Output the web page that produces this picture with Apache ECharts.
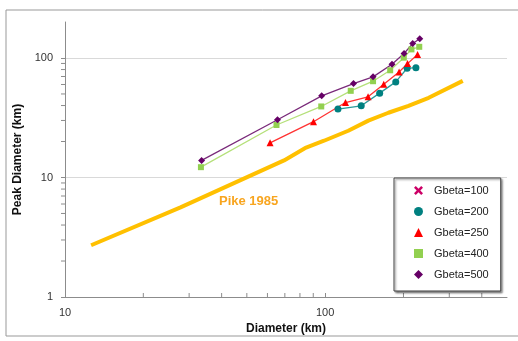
<!DOCTYPE html>
<html lang="en">

<head>
    <meta charset="UTF-8">
    <title>Peak Diameter vs Diameter</title>
    <script src="https://cdn.jsdelivr.net/npm/echarts@6/dist/echarts.min.js"></script>
    <style>
        html, body { margin: 0; padding: 0; background: #fff; }
    </style>
</head>

<body>
    <div id="main" style="width: 518px;height:341px;"></div>
    <script>
        // [diameter km, peak diameter km]
        var pike1985 = [[12.6, 2.71], [27.8, 5.62], [69.5, 13.9], [84.5, 17.8], [99, 20.3], [122.7, 24.6],
            [146.6, 29.9], [175, 34.8], [209, 39.8], [250, 46.4], [338, 64.3]];
        var gbeta100 = [];
        var gbeta200 = [[112, 37.4], [137.6, 39.8], [162, 50.8], [186.8, 63.1], [206.6, 82], [223.3, 83]];
        var gbeta250 = [[61.4, 19.5], [90.2, 29.3], [119.7, 42.4], [146.2, 47.3], [168, 60.4], [192.4, 76.4],
            [207.3, 89.7], [226.6, 107]];
        var gbeta400 = [[33.3, 12.2], [65, 27.5], [96.6, 39.3], [125.4, 53.1], [152.8, 63.9], [177.8, 78.9],
            [200.6, 100.6], [214.6, 118], [230, 124]];
        var gbeta500 = [[33.5, 13.9], [65.6, 30.4], [97, 48.2], [128.5, 61.1], [152.8, 69.5], [180.7, 88.6],
            [201, 109], [217, 132], [231, 145]];
        var xMinorTicks = [20, 30, 40, 50, 60, 70, 80, 90, 200, 300, 400];
        var yMinorTicks = [2, 3, 4, 5, 6, 7, 8, 9, 20, 30, 40, 50, 60, 70, 80, 90];

        var axisGray = '#8c8c8c';
        var crossIcon = 'path://M0,2 L2,0 L5,3 L8,0 L10,2 L7,5 L10,8 L8,10 L5,7 L2,10 L0,8 L3,5 Z';

        var myChart = echarts.init(document.getElementById('main'));

        function gbeta(name, data, color, lineColor, symbol, size) {
            return {
                name: name,
                type: 'line',
                data: data,
                symbol: symbol,
                symbolSize: size,
                showAllSymbol: true,
                itemStyle: { color: color },
                lineStyle: { color: lineColor, width: 1.3 },
                z: 3
            };
        }

        var option = {
            animation: false,
            textStyle: { fontFamily: 'Liberation Sans' },
            grid: { left: 65, right: 11, top: 22, bottom: 44 },
            graphic: [
                {
                    type: 'rect',
                    shape: { x: 6, y: 10, width: 600, height: 326 },
                    style: { fill: 'none', stroke: '#999', lineWidth: 1 },
                    z: -1
                },
                {
                    type: 'text',
                    left: 219,
                    top: 195,
                    style: {
                        text: 'Pike 1985',
                        fill: '#F8A51F',
                        font: 'bold 13px "Liberation Sans"'
                    }
                }
            ],
            legend: {
                orient: 'vertical',
                left: 394,
                top: 178,
                padding: [7, 12, 11, 20],
                itemGap: 10,
                itemWidth: 9,
                itemHeight: 9,
                backgroundColor: '#fff',
                borderColor: '#404040',
                borderWidth: 1,
                shadowColor: 'rgba(0,0,0,0.45)',
                shadowBlur: 2,
                shadowOffsetX: 1.5,
                shadowOffsetY: 1.5,
                textStyle: { fontSize: 11, color: '#222', padding: [0, 0, 0, 6] },
                data: [
                    { name: 'Gbeta=100', icon: crossIcon },
                    { name: 'Gbeta=200', icon: 'circle' },
                    { name: 'Gbeta=250', icon: 'triangle' },
                    { name: 'Gbeta=400', icon: 'rect' },
                    { name: 'Gbeta=500', icon: 'diamond' }
                ]
            },
            xAxis: {
                type: 'log',
                logBase: 10,
                min: 10,
                max: 500,
                name: 'Diameter (km)',
                nameLocation: 'middle',
                nameGap: 26,
                nameTextStyle: { fontWeight: 'bold', fontSize: 12, color: '#111' },
                axisLine: { lineStyle: { color: axisGray } },
                axisTick: { inside: true, length: 4, lineStyle: { color: axisGray } },
                axisLabel: { fontSize: 11, color: '#333', margin: 10, showMaxLabel: false },
                splitLine: { show: false }
            },
            yAxis: {
                type: 'log',
                logBase: 10,
                min: 1,
                max: 200,
                name: 'Peak Diameter (km)',
                nameLocation: 'middle',
                nameGap: 33,
                nameTextStyle: { fontWeight: 'bold', fontSize: 12, color: '#111' },
                axisLine: { show: true, lineStyle: { color: axisGray } },
                axisTick: { show: true, length: 4, lineStyle: { color: axisGray } },
                axisLabel: { fontSize: 11, color: '#333', margin: 12, showMaxLabel: false },
                splitLine: { show: true, showMinLine: false, showMaxLine: false, lineStyle: { color: '#d9d9d9' } }
            },
            series: [
                {
                    name: 'Pike 1985',
                    type: 'line',
                    data: pike1985,
                    symbol: 'none',
                    smooth: false,
                    lineStyle: { color: '#FFC000', width: 4 },
                    z: 2
                },
                gbeta('Gbeta=100', gbeta100, '#CC0066', '#CC0066', crossIcon, 8),
                gbeta('Gbeta=200', gbeta200, '#008080', '#2a9a9a', 'circle', 7),
                gbeta('Gbeta=250', gbeta250, '#FF0000', '#FF3333', 'triangle', 7),
                gbeta('Gbeta=400', gbeta400, '#92D050', '#b5e07a', 'rect', 6),
                gbeta('Gbeta=500', gbeta500, '#660066', '#7a2a7a', 'diamond', 7),
                {
                    name: 'xMinor',
                    type: 'custom',
                    silent: true,
                    data: xMinorTicks.map(function (v) { return [v, 1]; }),
                    renderItem: function (params, api) {
                        var p = api.coord([api.value(0), 1]);
                        return {
                            type: 'line',
                            shape: { x1: p[0], y1: p[1], x2: p[0], y2: p[1] - 4 },
                            style: { stroke: axisGray, lineWidth: 1 }
                        };
                    },
                    z: 1
                },
                {
                    name: 'yMinor',
                    type: 'custom',
                    silent: true,
                    data: yMinorTicks.map(function (v) { return [10, v]; }),
                    renderItem: function (params, api) {
                        var p = api.coord([10, api.value(1)]);
                        return {
                            type: 'line',
                            shape: { x1: p[0] - 4, y1: p[1], x2: p[0], y2: p[1] },
                            style: { stroke: axisGray, lineWidth: 1 }
                        };
                    },
                    z: 1
                }
            ]
        };

        myChart.setOption(option);
    </script>
</body>

</html>
